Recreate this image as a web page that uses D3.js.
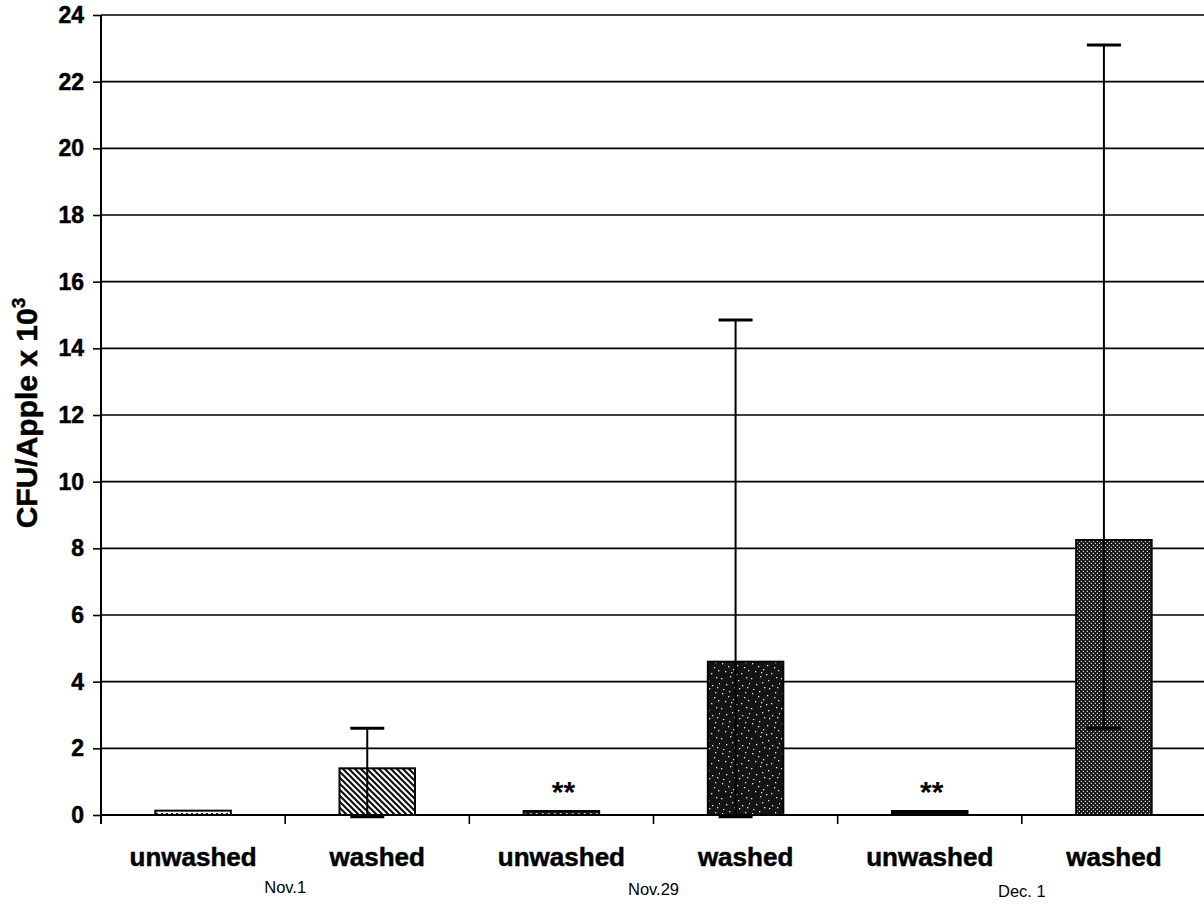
<!DOCTYPE html>
<html>
<head>
<meta charset="utf-8">
<script src="https://cdn.jsdelivr.net/npm/d3@7"></script>
<style>
  html, body { margin: 0; padding: 0; background: #fff; }
  svg { display: block; font-family: Arial, "Liberation Sans", sans-serif; }
</style>
</head>
<body>
<svg id="chart" width="1204" height="904"></svg>
<script>
// ---- data ----
const categories = ["unwashed", "washed", "unwashed", "washed", "unwashed", "washed"];
const dates = ["Nov.1", "Nov.29", "Dec. 1"];
const values = [0.13, 1.4, 0.12, 4.6, 0.12, 8.25];
const errUpper = [null, 2.6, null, 14.85, null, 23.1];
const errLower = [null, -0.05, null, -0.05, null, 2.6];
const marks = ["", "", "**", "", "**", ""];
const fills = ["dots", "hatch", "darkdots", "speckle", "black", "grid"];
const yTicks = [0, 2, 4, 6, 8, 10, 12, 14, 16, 18, 20, 22, 24];
const yTitle = "CFU/Apple x 10";
const yTitleSup = "3";

// ---- layout ----
const svg = d3.select("#chart");
const W = 1204, H = 904;
const plotLeft = 101, plotRight = 1206, plotTop = 15, plotBottom = 815;

svg.append("rect").attr("width", W).attr("height", H).attr("fill", "#fff");

const y = d3.scaleLinear().domain([0, 24]).range([plotBottom, plotTop]);
const x = d3.scaleBand().domain(d3.range(categories.length))
  .range([plotLeft, plotRight]).paddingInner(0.59).paddingOuter(0.295);

// ---- patterns ----
const defs = svg.append("defs");
let p = defs.append("pattern").attr("id", "dots").attr("patternUnits", "userSpaceOnUse")
  .attr("width", 5).attr("height", 4);
p.append("rect").attr("width", 5).attr("height", 4).attr("fill", "#fff");
p.append("rect").attr("x", 1).attr("y", 1).attr("width", 2).attr("height", 2).attr("fill", "#222");

p = defs.append("pattern").attr("id", "hatch").attr("patternUnits", "userSpaceOnUse")
  .attr("width", 6).attr("height", 6);
p.append("rect").attr("width", 6).attr("height", 6).attr("fill", "#fff");
p.append("path").attr("d", "M-1,-1 L7,7 M-1,5 L1,7 M5,-1 L7,1").attr("stroke", "#111").attr("stroke-width", 2.2);

p = defs.append("pattern").attr("id", "darkdots").attr("patternUnits", "userSpaceOnUse")
  .attr("width", 6).attr("height", 4);
p.append("rect").attr("width", 6).attr("height", 4).attr("fill", "#1a1a1a");
p.append("rect").attr("x", 2).attr("y", 1).attr("width", 1.5).attr("height", 1.5).attr("fill", "#ddd");

p = defs.append("pattern").attr("id", "speckle").attr("patternUnits", "userSpaceOnUse")
  .attr("width", 30).attr("height", 30);
p.append("rect").attr("width", 30).attr("height", 30).attr("fill", "#141414");
const speck = [[2,3],[9,1],[17,5],[25,2],[5,11],[13,9],[21,13],[28,10],[1,18],[10,16],[18,20],[26,17],
  [6,24],[14,27],[22,25],[29,23],[3,29],[12,22],[19,28],[8,6],[24,7],[16,14],[27,27],[11,12]];
speck.forEach(([sx, sy]) => p.append("rect").attr("x", sx).attr("y", sy)
  .attr("width", 1.3).attr("height", 1.3).attr("fill", "#e8e8e8"));

p = defs.append("pattern").attr("id", "grid").attr("patternUnits", "userSpaceOnUse")
  .attr("width", 4).attr("height", 4);
p.append("rect").attr("width", 4).attr("height", 4).attr("fill", "#161616");
p.append("rect").attr("x", 0.8).attr("y", 0.8).attr("width", 1.2).attr("height", 1.2).attr("fill", "#e0e0e0");
p.append("rect").attr("x", 2.8).attr("y", 2.8).attr("width", 1.2).attr("height", 1.2).attr("fill", "#e0e0e0");

// ---- gridlines ----
svg.append("g").selectAll("line").data(yTicks).join("line")
  .attr("x1", plotLeft).attr("x2", W).attr("y1", d => y(d)).attr("y2", d => y(d))
  .attr("stroke", "#000").attr("stroke-width", 1.6);

// ---- bars ----
const fillOf = f => f === "black" ? "#000" : `url(#${f})`;
svg.append("g").selectAll("rect").data(values).join("rect")
  .attr("x", (d, i) => x(i)).attr("width", x.bandwidth())
  .attr("y", d => y(d)).attr("height", d => y(0) - y(d))
  .attr("fill", (d, i) => fillOf(fills[i]))
  .attr("stroke", "#000").attr("stroke-width", 2);

// ---- error bars ----
const errOffset = -10, capW = 34;
const eb = svg.append("g");
values.forEach((v, i) => {
  if (errUpper[i] == null) return;
  const cx = x(i) + x.bandwidth() / 2 + errOffset;
  eb.append("line").attr("x1", cx).attr("x2", cx)
    .attr("y1", y(errLower[i])).attr("y2", y(errUpper[i]))
    .attr("stroke", "#000").attr("stroke-width", 2);
  [errLower[i], errUpper[i]].forEach(e => {
    eb.append("line").attr("x1", cx - capW / 2).attr("x2", cx + capW / 2)
      .attr("y1", y(e)).attr("y2", y(e))
      .attr("stroke", "#000").attr("stroke-width", 3);
  });
});

// ---- significance marks ----
svg.append("g").selectAll("text").data(marks).join("text")
  .attr("x", (d, i) => x(i) + x.bandwidth() / 2 + 2).attr("y", 802)
  .attr("text-anchor", "middle").attr("font-size", 30).attr("font-weight", "bold")
  .text(d => d);

// ---- y axis ----
const yAxis = svg.append("g").attr("transform", `translate(${plotLeft},0)`)
  .call(d3.axisLeft(y).tickValues(yTicks).tickSize(8).tickPadding(9).tickSizeOuter(0));
yAxis.select(".domain").remove();
yAxis.selectAll(".tick line").attr("stroke", "#000").attr("stroke-width", 1.6);
yAxis.selectAll(".tick text").attr("font-size", 23).attr("font-weight", "bold")
  .attr("font-family", "Arial, 'Liberation Sans', sans-serif").attr("fill", "#000")
  .attr("stroke", "#000").attr("stroke-width", 0.5);
svg.append("line").attr("x1", plotLeft).attr("x2", plotLeft).attr("y1", plotTop).attr("y2", plotBottom + 9)
  .attr("stroke", "#000").attr("stroke-width", 2);

// ---- x axis ----
svg.append("line").attr("x1", plotLeft).attr("x2", W).attr("y1", plotBottom).attr("y2", plotBottom)
  .attr("stroke", "#000").attr("stroke-width", 2);
const boundaries = d3.range(categories.length - 1).map(i => x(i) + x.bandwidth() / 2 + x.step() / 2);
svg.append("g").selectAll("line").data(boundaries).join("line")
  .attr("x1", d => d).attr("x2", d => d).attr("y1", plotBottom).attr("y2", plotBottom + 9)
  .attr("stroke", "#000").attr("stroke-width", 1.6);

svg.append("g").selectAll("text").data(categories).join("text")
  .attr("x", (d, i) => x(i) + x.bandwidth() / 2).attr("y", 866)
  .attr("text-anchor", "middle").attr("font-size", 26).attr("font-weight", "bold")
  .attr("stroke", "#000").attr("stroke-width", 0.5)
  .text(d => d);

svg.append("g").selectAll("text").data(dates).join("text")
  .attr("x", (d, g) => boundaries[g * 2]).attr("y", (d, g) => 893 + g * 2)
  .attr("text-anchor", "middle").attr("font-size", 16.5)
  .text(d => d);

// ---- y title ----
const t = svg.append("text").attr("transform", "translate(37,413) rotate(-90)")
  .attr("text-anchor", "middle").attr("font-size", 30).attr("font-weight", "bold")
  .attr("stroke", "#000").attr("stroke-width", 0.5);
t.append("tspan").text(yTitle);
t.append("tspan").attr("dy", -12).attr("font-size", 19).text(yTitleSup);
</script>
</body>
</html>
